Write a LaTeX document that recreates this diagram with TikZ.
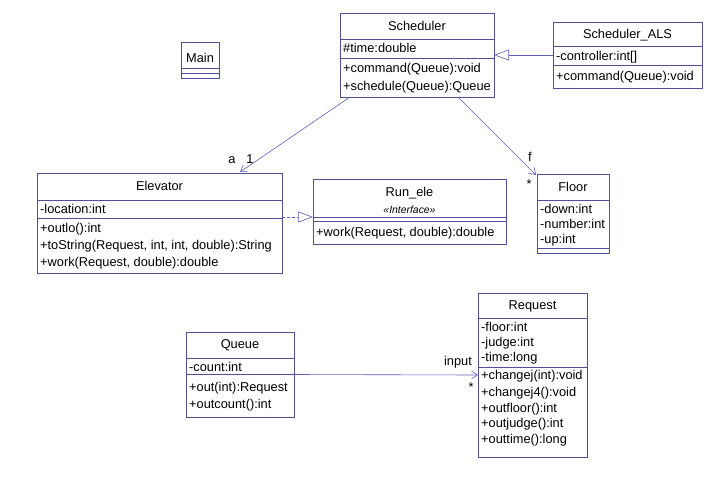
\documentclass[tikz,border=0pt]{standalone}
\usepackage{fontspec}
\setmainfont{Liberation Sans}
\usetikzlibrary{arrows.meta}
\definecolor{bord}{RGB}{80,80,150}
\definecolor{lnk}{RGB}{95,95,185}
\newcommand\umlfont{\fontsize{12.8}{15}\selectfont}
\newcommand\stereofont{\fontsize{10.4}{12}\selectfont\itshape}
\begin{document}
\begin{tikzpicture}[x=1pt,y=-1pt,
 cls/.style={draw=bord, line width=0.8pt, anchor=north west, inner sep=0pt, outer sep=0pt, fill=white},
 divl/.style={draw=bord, line width=0.8pt},
 mem/.style={anchor=base west, inner sep=0pt, font=\umlfont},
 ttl/.style={anchor=base, inner sep=0pt, font=\umlfont},
 lbl/.style={anchor=base, inner sep=0pt, font=\umlfont},
 assoc/.style={draw=lnk, line width=0.6pt, -{Straight Barb[length=6pt,width=8pt]}},
 gen/.style={draw=lnk, line width=0.6pt, -{Triangle[open,length=15pt,width=11pt]}},
 real/.style={gen, dash pattern=on 3pt off 2pt},
]
\useasboundingbox[fill=white] (0,0) rectangle (723,483);

% ---------- Scheduler
\node[cls, minimum width=154pt, minimum height=84pt] (sched) at (340,13) {};
\draw[divl] (340,39) -- (494,39);
\draw[divl] (340,58) -- (494,58);
\node[ttl] (schedT) at (417,30.5) {Scheduler};
\node[mem] (schedA1) at (343,52.5) {\#time:double};
\node[mem] (schedM1) at (343,72.5) {+command(Queue):void};
\node[mem] (schedM2) at (343,90.5) {+schedule(Queue):Queue};

% ---------- Scheduler_ALS
\node[cls, minimum width=149pt, minimum height=66pt] (als) at (553,22) {};
\draw[divl] (553,46) -- (702,46);
\draw[divl] (553,65) -- (702,65);
\node[ttl] (alsT) at (627.5,38.5) {Scheduler\_ALS};
\node[mem] (alsA1) at (556,60.5) {-controller:int[]};
\node[mem] (alsM1) at (556,80.5) {+command(Queue):void};

% ---------- Main
\node[cls, minimum width=38pt, minimum height=36pt] (main) at (181,42) {};
\draw[divl] (181,68) -- (219,68);
\draw[divl] (181,73) -- (219,73);
\node[ttl] (mainT) at (200,62) {Main};

% ---------- Elevator
\node[cls, minimum width=245pt, minimum height=100pt] (elev) at (37,173) {};
\draw[divl] (37,200) -- (282,200);
\draw[divl] (37,218) -- (282,218);
\node[ttl] (elevT) at (159.5,190.5) {Elevator};
\node[mem] (elevA1) at (40,213.5) {-location:int};
\node[mem] (elevM1) at (40,232.5) {+outlo():int};
\node[mem] (elevM2) at (40,249.5) {+toString(Request, int, int, double):String};
\node[mem] (elevM3) at (40,266.5) {+work(Request, double):double};

% ---------- Run_ele
\node[cls, minimum width=193pt, minimum height=65pt] (run) at (313,179) {};
\draw[divl] (313,217) -- (506,217);
\draw[divl] (313,221) -- (506,221);
\node[ttl] (runT) at (409.5,196.5) {Run\_ele};
\node[ttl, font=\stereofont] (runS) at (409.5,213) {«Interface»};
\node[mem] (runM1) at (316,236.5) {+work(Request, double):double};

% ---------- Floor
\node[cls, minimum width=72pt, minimum height=79pt] (floor) at (537,174) {};
\draw[divl] (537,200) -- (609,200);
\draw[divl] (537,248) -- (609,248);
\node[ttl] (floorT) at (573,191.5) {Floor};
\node[mem] (floorA1) at (540,213.5) {-down:int};
\node[mem] (floorA2) at (540,228) {-number:int};
\node[mem] (floorA3) at (540,243.5) {-up:int};

% ---------- Queue
\node[cls, minimum width=108pt, minimum height=85pt] (queue) at (186,332) {};
\draw[divl] (186,358) -- (294,358);
\draw[divl] (186,374) -- (294,374);
\node[ttl] (queueT) at (240,348.5) {Queue};
\node[mem] (queueA1) at (189,371) {-count:int};
\node[mem] (queueM1) at (189,391.5) {+out(int):Request};
\node[mem] (queueM2) at (189,408.5) {+outcount():int};

% ---------- Request
\node[cls, minimum width=109pt, minimum height=164pt] (req) at (478,293) {};
\draw[divl] (478,318) -- (587,318);
\draw[divl] (478,367) -- (587,367);
\node[ttl] (reqT) at (532.5,309.5) {Request};
\node[mem] (reqA1) at (481,331.5) {-floor:int};
\node[mem] (reqA2) at (481,346.5) {-judge:int};
\node[mem] (reqA3) at (481,361.5) {-time:long};
\node[mem] (reqM1) at (481,379.5) {+changej(int):void};
\node[mem] (reqM2) at (481,396.5) {+changej4():void};
\node[mem] (reqM3) at (481,412.5) {+outfloor():int};
\node[mem] (reqM4) at (481,427.5) {+outjudge():int};
\node[mem] (reqM5) at (481,443.5) {+outtime():long};

% ---------- connectors
\draw[gen] (als.west) -- (sched.east);
\draw[real] ([yshift=6pt]elev.east) -- ([yshift=-5.5pt]run.west);
\draw[assoc] ([xshift=10pt]sched.south west) -- ([xshift=203pt,yshift=1pt]elev.north west);
\draw[assoc] ([xshift=118pt]sched.south west) -- ([xshift=-1pt,yshift=-1pt]floor.north west);
\draw[assoc] (queue.east) -- (req.west);

% ---------- multiplicities / roles
\node[lbl] (la) at (232,163.5) {a};
\node[lbl] (l1) at (250,163.5) {1};
\node[lbl] (lf) at (530,161.5) {f};
\node[lbl] (lfs) at (529,188) {*};
\node[lbl] (lin) at (458,365) {input};
\node[lbl] (lins) at (471,391) {*};
\end{tikzpicture}
\end{document}
